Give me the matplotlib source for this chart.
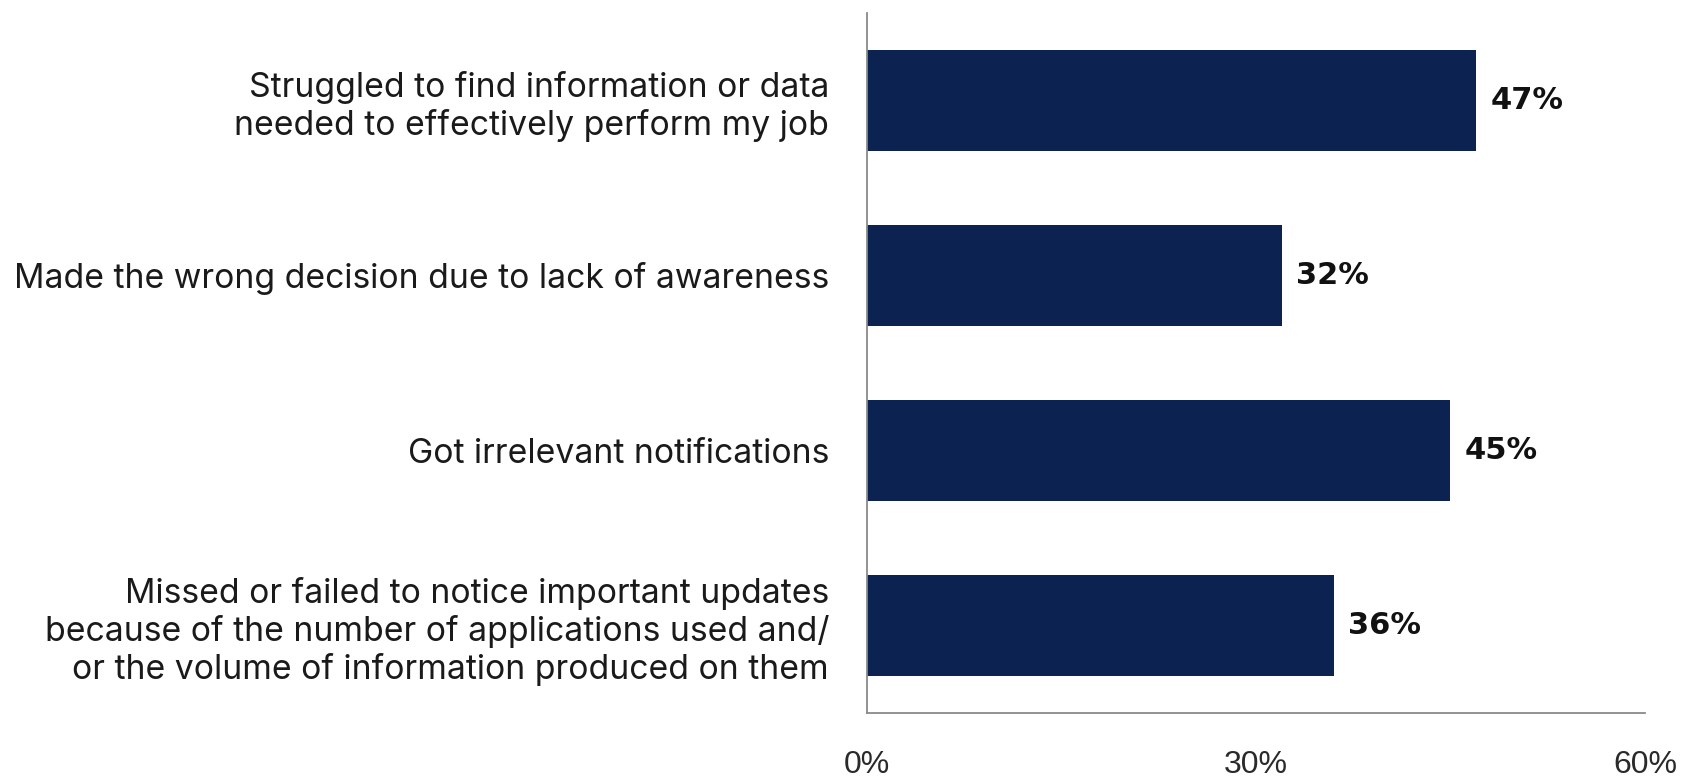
import matplotlib
matplotlib.use("Agg")
import matplotlib.pyplot as plt
from matplotlib.ticker import FuncFormatter

categories = [
    "Struggled to find information or data\nneeded to effectively perform my job",
    "Made the wrong decision due to lack of awareness",
    "Got irrelevant notifications",
    "Missed or failed to notice important updates\nbecause of the number of applications used and/\nor the volume of information produced on them",
]
values = [47, 32, 45, 36]
x_ticks = [0, 30, 60]

bar_color = "#0c2352"
spine_color = "#8a8a8a"

fig = plt.figure(figsize=(16.86, 7.83), dpi=100)
ax = fig.add_axes([0.514, 0.0894, 0.4617, 0.894])

positions = list(range(len(categories)))
bars = ax.barh(positions, values, height=0.58, color=bar_color)

ax.set_xlim(0, 60)
ax.set_ylim(len(categories) - 0.5, -0.5)

ax.set_xticks(x_ticks)
ax.xaxis.set_major_formatter(FuncFormatter(lambda v, _: f"{v:.0f}%"))
ax.tick_params(axis="x", length=0, pad=27, labelsize=23, labelcolor="#2a2a2a")
for lbl in ax.get_xticklabels():
    lbl.set_fontfamily("Liberation Sans")

ax.set_yticks(positions)
ax.set_yticklabels(categories, fontsize=24.3, fontfamily="Inter", color="#1a1a1a",
                   linespacing=1.2)
ax.tick_params(axis="y", length=0, pad=27)

for side in ("top", "right"):
    ax.spines[side].set_visible(False)
for side in ("left", "bottom"):
    ax.spines[side].set_color(spine_color)
    ax.spines[side].set_linewidth(1.3)

for rect, v in zip(bars, values):
    ax.annotate(f"{v}%", xy=(rect.get_width(), rect.get_y() + rect.get_height() / 2),
                xytext=(10, 0), textcoords="offset points", va="center", ha="left",
                fontsize=22, fontweight="black", fontfamily="DejaVu Sans", color="#111111")

fig.savefig("out.png", dpi=100, facecolor="white")
